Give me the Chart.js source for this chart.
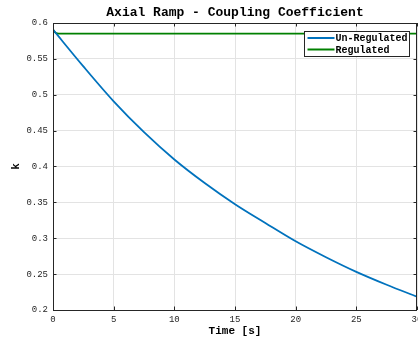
<!DOCTYPE html>
<html>
<head>
<meta charset="utf-8">
<script src="https://cdn.jsdelivr.net/npm/chart.js@4"></script>
<style>
  html, body { margin: 0; padding: 0; background: #ffffff; }
  #wrap { width: 418px; height: 340px; }
</style>
</head>
<body>
<div id="wrap"><canvas id="couplingChart" width="418" height="340"></canvas></div>
<script>
// Values
const timeSeconds = [0, 2.5, 5, 7.5, 10, 12.5, 15, 17.5, 20, 22.5, 25, 27.5, 30];
const unRegulatedK = [0.5907, 0.5395, 0.4908, 0.4478, 0.4098, 0.3770, 0.3475, 0.3213, 0.2958, 0.2736, 0.2532, 0.2352, 0.2185];

const regulatedTime = [0, 0.15, 0.35, 0.6, 30];
const regulatedK = [0.5907, 0.5874, 0.5855, 0.5851, 0.5851];

// Axis ticks
const xTickValues = [0, 5, 10, 15, 20, 25, 30];
const yTickValues = [0.2, 0.25, 0.3, 0.35, 0.4, 0.45, 0.5, 0.55, 0.6];

const seriesLabels = ['Un-Regulated', 'Regulated'];
const seriesColors = ['#0072BD', '#008000'];

const axisColor = '#262626';
const monoFont = "'Liberation Mono', 'Courier New', monospace";

function toPoints(xs, ys) {
  return xs.map((x, i) => ({ x: x, y: ys[i] }));
}

// Box round the axes with inward ticks, as MATLAB draws it
const boxPlugin = {
  id: 'boxPlugin',
  afterDatasetsDraw(chart) {
    const ctx = chart.ctx;
    const area = chart.chartArea;
    const xs = chart.scales.x;
    const ys = chart.scales.y;
    const tick = 3.5;
    ctx.save();
    ctx.strokeStyle = axisColor;
    ctx.lineWidth = 1;
    ctx.beginPath();
    xTickValues.forEach(v => {
      const px = Math.round(xs.getPixelForValue(v)) + 0.5;
      ctx.moveTo(px, area.bottom);
      ctx.lineTo(px, area.bottom - tick);
      ctx.moveTo(px, area.top);
      ctx.lineTo(px, area.top + tick);
    });
    yTickValues.forEach(v => {
      const py = Math.round(ys.getPixelForValue(v)) + 0.5;
      ctx.moveTo(area.left, py);
      ctx.lineTo(area.left + tick, py);
      ctx.moveTo(area.right, py);
      ctx.lineTo(area.right - tick, py);
    });
    ctx.stroke();
    ctx.strokeRect(Math.round(area.left) + 0.5, Math.round(area.top) + 0.5,
      Math.round(area.right - area.left) - 1, Math.round(area.bottom - area.top));
    ctx.restore();
  },
  afterDraw(chart) {
    // legend box in the upper right corner of the axes
    const ctx = chart.ctx;
    const area = chart.chartArea;
    const boxW = 105, boxH = 25;
    const bx = Math.round(area.right - 8 - boxW) + 0.5;
    const by = Math.round(area.top + 8) + 0.5;
    ctx.save();
    ctx.fillStyle = '#ffffff';
    ctx.fillRect(bx, by, boxW, boxH);
    ctx.strokeStyle = axisColor;
    ctx.lineWidth = 1;
    ctx.strokeRect(bx, by, boxW, boxH);
    ctx.font = 'bold 10px ' + monoFont;
    ctx.textBaseline = 'middle';
    ctx.textAlign = 'left';
    chart.data.datasets.forEach((ds, i) => {
      const rowY = by + 6.5 + i * 11.5;
      ctx.strokeStyle = ds.borderColor;
      ctx.lineWidth = 2;
      ctx.beginPath();
      ctx.moveTo(bx + 3, rowY);
      ctx.lineTo(bx + 30, rowY);
      ctx.stroke();
      ctx.fillStyle = '#000000';
      ctx.fillText(ds.label, bx + 31, rowY + 0.5);
    });
    ctx.restore();
  }
};

const ctx = document.getElementById('couplingChart').getContext('2d');
const couplingChart = new Chart(ctx, {
  type: 'line',
  data: {
    datasets: [{
      label: seriesLabels[0],
      data: toPoints(timeSeconds, unRegulatedK),
      borderColor: seriesColors[0],
      borderWidth: 1.8,
      pointRadius: 0,
      cubicInterpolationMode: 'monotone',
      fill: false
    }, {
      label: seriesLabels[1],
      data: toPoints(regulatedTime, regulatedK),
      borderColor: seriesColors[1],
      borderWidth: 1.8,
      pointRadius: 0,
      cubicInterpolationMode: 'monotone',
      fill: false
    }]
  },
  options: {
    responsive: false,
    animation: false,
    layout: { padding: { left: 0, right: 1, top: 0, bottom: 0 } },
    plugins: {
      legend: { display: false },
      tooltip: { enabled: false },
      title: {
        display: true,
        text: 'Axial Ramp - Coupling Coefficient',
        fullSize: false,
        color: '#000000',
        font: { family: monoFont, size: 13, weight: 'bold', lineHeight: 1.2 },
        padding: { top: 5, bottom: 2.4 }
      }
    },
    scales: {
      x: {
        type: 'linear',
        min: 0,
        max: 30,
        afterBuildTicks: scale => { scale.ticks = xTickValues.map(v => ({ value: v })); },
        afterFit: scale => {
          scale.height = 30;
          scale.paddingLeft = 0;
          scale.paddingRight = 0;
        },
        ticks: {
          color: axisColor,
          padding: 4,
          maxRotation: 0,
          font: { family: monoFont, size: 9 },
          callback: v => String(v)
        },
        grid: { color: '#e3e3e3', lineWidth: 1, drawTicks: false },
        border: { display: false },
        title: {
          display: true,
          text: 'Time [s]',
          color: '#000000',
          font: { family: monoFont, size: 11, weight: 'bold', lineHeight: 1.2 },
          padding: { top: 0, bottom: 2 }
        }
      },
      y: {
        min: 0.2,
        max: 0.6,
        afterBuildTicks: scale => { scale.ticks = yTickValues.map(v => ({ value: v })); },
        afterFit: scale => {
          scale.width = 53;
          scale.paddingTop = 0;
          scale.paddingBottom = 0;
        },
        ticks: {
          color: axisColor,
          padding: 5,
          font: { family: monoFont, size: 9 },
          callback: v => String(+v.toFixed(2))
        },
        grid: { color: '#e3e3e3', lineWidth: 1, drawTicks: false },
        border: { display: false },
        title: {
          display: true,
          text: 'k',
          color: '#000000',
          font: { family: monoFont, size: 11, weight: 'bold', lineHeight: 1.2 },
          padding: { top: 10, bottom: 0 }
        }
      }
    }
  },
  plugins: [boxPlugin]
});
</script>
</body>
</html>
